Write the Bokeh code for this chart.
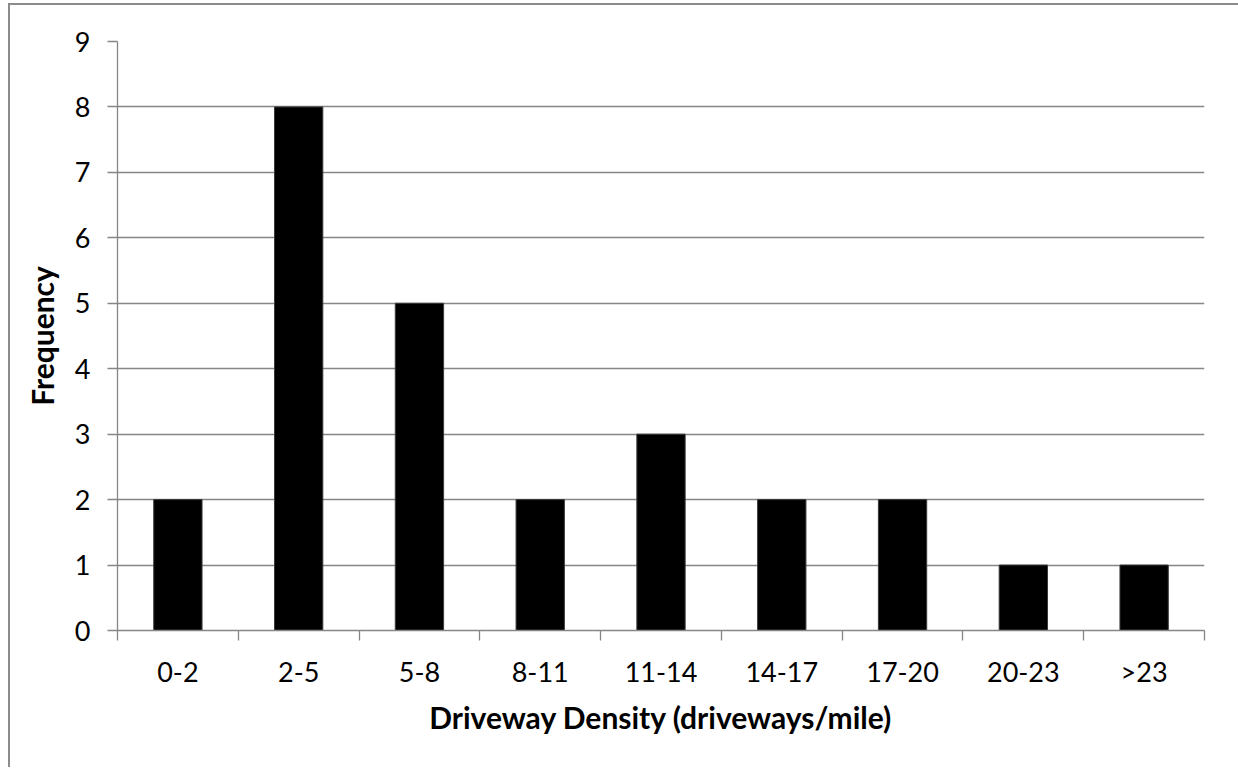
from bokeh.plotting import figure
from bokeh.models import FixedTicker, Range1d, ColumnDataSource
from bokeh.embed import file_html
from bokeh.resources import INLINE

categories = ["0-2", "2-5", "5-8", "8-11", "11-14", "14-17", "17-20", "20-23", ">23"]
frequency = [2, 8, 5, 2, 3, 2, 2, 1, 1]
y_ticks = [0, 1, 2, 3, 4, 5, 6, 7, 8, 9]
x_title = "Driveway Density (driveways/mile)"
y_title = "Frequency"

GRAY = "#868686"
FONT = "Lato"

x_pos = [i + 1 for i in range(len(categories))]
boundaries = [i + 0.5 for i in range(len(categories) + 1)]
src = ColumnDataSource(dict(x=x_pos, top=frequency, cat=categories))

p = figure(width=1232, height=764, output_backend="svg", toolbar_location=None,
           x_range=Range1d(0.5, len(categories) + 0.5), y_range=Range1d(0, 9),
           min_border_left=107, min_border_right=38, min_border_top=36, min_border_bottom=139)
p.styles = {"margin-left": "8px", "margin-top": "3px",
            "border-style": "solid none none solid",
            "border-width": "2px 0px 0px 2px",
            "border-color": "#8c8c8c"}
p.outline_line_color = None
p.background_fill_color = "white"
p.border_fill_color = "white"

p.vbar(x="x", top="top", width=0.4, bottom=0, source=src,
       fill_color="black", line_color="#3a3a3a", line_width=1)

xa = p.xaxis[0]
xa.ticker = FixedTicker(ticks=x_pos, minor_ticks=boundaries)
xa.major_label_overrides = {x: c for x, c in zip(x_pos, categories)}
xa.major_tick_out = 0
xa.major_tick_in = 0
xa.minor_tick_out = 10
xa.minor_tick_in = 0
xa.minor_tick_line_color = GRAY
xa.minor_tick_line_width = 1.3
xa.axis_line_color = GRAY
xa.axis_line_width = 1.3
xa.major_label_text_font = FONT
xa.major_label_text_font_size = "27px"
xa.major_label_text_color = "black"
xa.major_label_standoff = 14
xa.axis_label = x_title
xa.axis_label_text_font = FONT
xa.axis_label_text_font_style = "bold"
xa.axis_label_text_font_size = "30px"
xa.axis_label_text_color = "black"
xa.axis_label_standoff = 8

ya = p.yaxis[0]
ya.ticker = FixedTicker(ticks=y_ticks)
ya.minor_tick_line_color = None
ya.major_tick_out = 10
ya.major_tick_in = 0
ya.major_tick_line_color = GRAY
ya.major_tick_line_width = 1.3
ya.axis_line_color = GRAY
ya.axis_line_width = 1.3
ya.major_label_text_font = FONT
ya.major_label_text_font_size = "27px"
ya.major_label_text_color = "black"
ya.major_label_standoff = 17
ya.axis_label = y_title
ya.axis_label_text_font = FONT
ya.axis_label_text_font_style = "bold"
ya.axis_label_text_font_size = "30px"
ya.axis_label_text_color = "black"
ya.axis_label_standoff = 12

p.xgrid.grid_line_color = None
p.ygrid.grid_line_color = GRAY
p.ygrid.grid_line_width = 1.3

open("out.html", "w").write(file_html(p, INLINE))
